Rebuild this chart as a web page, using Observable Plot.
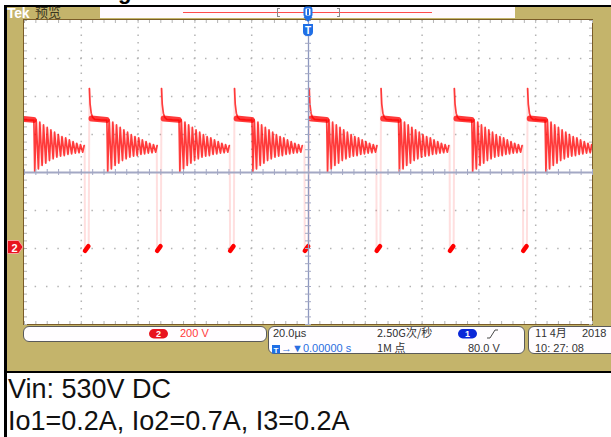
<!DOCTYPE html>
<html><head><meta charset="utf-8">
<script src="https://cdn.jsdelivr.net/npm/d3@7"></script>
<script src="https://cdn.jsdelivr.net/npm/@observablehq/plot@0.6"></script>
<style>
body{margin:0;background:#fff;font-family:"Liberation Sans",Arial,sans-serif;}
#wrap{position:relative;width:611px;height:437px;overflow:hidden;background:#fff;}
.abs{position:absolute;}
.box{position:absolute;box-sizing:border-box;border:1px solid #5a5a5a;border-radius:6px;background:#fffdff;}
.t11{position:absolute;font-size:11px;line-height:11px;color:#333;white-space:nowrap;}
.big{position:absolute;left:8px;font-size:27px;line-height:27px;color:#111;white-space:nowrap;}
</style></head><body>
<div id="wrap">
  <div class="abs" style="left:118px;top:-21px;font:bold 22px 'Liberation Sans',Arial;color:#000;">g</div>
  <!-- black frame + khaki bezel -->
  <div class="abs" style="left:4px;top:5px;width:3px;height:432px;background:#000;"></div>
  <div class="abs" style="left:4px;top:5px;width:607px;height:2px;background:#000;"></div>
  <div class="abs" style="left:7px;top:7px;width:604px;height:364px;background:#c4b46b;"></div>
  <div class="abs" style="left:4px;top:371px;width:607px;height:2px;background:#000;"></div>
  <!-- header -->
  <div class="abs" style="left:7px;top:6px;font:bold 14px/14px 'Liberation Sans',Arial;color:#fff;letter-spacing:-0.3px;">Tek</div>
  <div class="abs" style="left:35px;top:5px;font:13px/14px 'Noto Sans CJK SC';color:#3a3520;">预览</div>
  <div class="abs" style="left:100px;top:7px;width:415px;height:11px;background:#fffafe;"></div>
  <div class="abs" style="left:183px;top:12px;width:249px;height:1px;background:#ff4a4a;"></div>
  <div class="abs" style="left:277px;top:8px;width:3px;height:9px;box-sizing:border-box;border:1px solid #8a8a8a;border-right:none;"></div>
  <div class="abs" style="left:337px;top:8px;width:3px;height:9px;box-sizing:border-box;border:1px solid #8a8a8a;border-left:none;"></div>
  <!-- graticule frame -->
  <div class="abs" style="left:23px;top:19px;width:570px;height:306px;box-sizing:border-box;border:1px solid #7a5c28;background:#fff;"></div>
  <div id="plot" class="abs" style="left:24px;top:20px;width:568px;height:304px;"></div>
  <svg class="abs" style="left:0;top:0" width="611" height="437">
    <polygon points="7.5,240.5 18.5,240.5 23,247 18.5,253.5 7.5,253.5" fill="#e8141e" stroke="#ffb4b4" stroke-width="0.8"/>
    <text x="14.5" y="251.5" fill="#fff" font-size="11" font-weight="bold" text-anchor="middle" font-family="Liberation Sans">2</text>
    <rect x="304.5" y="7.5" width="7" height="9" rx="2" fill="#ffffff" stroke="#1f6fe6" stroke-width="2"/>
    <rect x="307" y="9" width="2" height="6" fill="#1f6fe6"/>
    <polygon points="303.5,17 312.5,17 308,22" fill="#1f6fe6"/>
    <path d="M303,24 h10 v8 q0,4 -5,4 q-5,0 -5,-4 z" fill="#1f6fe6"/>
    <text x="308" y="33.5" fill="#fff" font-size="10" font-weight="bold" text-anchor="middle" font-family="Liberation Sans">T</text>
  </svg>
  <!-- bottom readouts -->
  <div class="box" style="left:23px;top:326px;width:244px;height:16px;"></div>
  <div class="box" style="left:268px;top:326px;width:257px;height:28px;"></div>
  <div class="box" style="left:528px;top:326px;width:95px;height:28px;"></div>
  <svg class="abs" style="left:0;top:0" width="611" height="437">
    <rect x="149" y="329" width="19" height="9.5" rx="4.75" fill="#e8141e"/>
    <text x="158.5" y="337" fill="#fff" font-size="9" font-weight="bold" text-anchor="middle" font-family="Liberation Sans">2</text>
    <rect x="458" y="329" width="19" height="9.5" rx="4.75" fill="#0a28d8"/>
    <text x="467.5" y="337" fill="#fff" font-size="9" font-weight="bold" text-anchor="middle" font-family="Liberation Sans">1</text>
    <path d="M487,338 h3 l5,-8 h3" fill="none" stroke="#333" stroke-width="0.9"/>
    <rect x="272" y="345" width="8" height="8.5" fill="#1f6fe6"/>
    <text x="276" y="352.5" fill="#fff" font-size="8" font-weight="bold" text-anchor="middle" font-family="Liberation Sans">T</text>
  </svg>
  <div class="t11" style="left:180px;top:328px;color:#ff3a3a;">200 V</div>
  <div class="t11" style="left:273px;top:328px;">20.0µs</div>
  <div class="t11" style="left:281px;top:343px;color:#2a6ee0;">→▼0.00000 s</div>
  <div class="t11" style="left:377px;top:327px;font-family:'Noto Sans CJK SC';">2.50G次/秒</div>
  <div class="t11" style="left:377px;top:342px;font-family:'Noto Sans CJK SC';">1M 点</div>
  <div class="t11" style="left:468px;top:343px;">80.0 V</div>
  <div class="t11" style="left:535px;top:327px;font-family:'Noto Sans CJK SC';">11 4月</div>
  <div class="t11" style="left:582px;top:328px;">2018</div>
  <div class="t11" style="left:535px;top:343px;">10: 27: 08</div>
  <div class="big" style="top:376px;">Vin: 530V DC</div>
  <div class="big" style="top:408px;">Io1=0.2A, Io2=0.7A, I3=0.2A</div>
</div>
<script>
// ---- Channel 2 (200 V/div, 20 µs/div) values read from the screen ----
// turn-off instants (µs, relative to trigger)
const spikeTimes = [-103.0, -77.3, -51.9, -26.2, 0.1, 25.4, 51.2, 77.0, 102.7];
// turn-off spike and flat-top (offset µs from turn-off, volts)
const spikeT = [0.15, 0.4, 0.8, 1.3, 2.0, 4.0, 6.3];
const spikeV = [842, 760, 712, 690, 680, 677, 676];
// ringing after demagnetisation
const troughT = [6.6, 7.9, 9.2, 10.5, 11.8, 13.1, 14.4, 15.7, 17.0, 18.3, 19.6, 20.9, 22.2, 23.5];
const troughV = [402, 419, 437, 449, 463, 472, 481, 486, 489, 495, 498, 502, 504, 507];
const peakT = [7.1, 8.4, 9.7, 11.0, 12.3, 13.6, 14.9, 16.2, 17.5, 18.8, 20.1, 21.4, 22.7, 24.0];
const peakV = [677, 665, 651, 638, 625, 612, 600, 589, 583, 572, 563, 554, 547, 542];
// on-time (offset µs before turn-off)
const lowT = [-1.4, -0.2];
const lowV = [-12, 12];
// flat-top band
const flatT = [0.9, 6.2];
const flatV = [684, 677];
// fast edges
const dropT = [-1.52, -1.42];
const dropV = [542, 0];
const riseT = [-0.1, 0.15];
const riseV = [0, 842];

// graticule
const xDivs = [-100, -80, -60, -40, -20, 0, 20, 40, 60, 80, 100];
const yDivs = [-400, -200, 0, 200, 400, 600, 800, 1000, 1200];
const xCenter = 0, yCenter = 400;

const main = [], flat = [], low = [], edges = [], ringBand = [];
spikeTimes.forEach((s, c) => {
  spikeT.forEach((d, i) => main.push({t: s + d, v: spikeV[i], c}));
  troughT.forEach((d, i) => {
    main.push({t: s + d, v: troughV[i], c});
    main.push({t: s + peakT[i], v: peakV[i], c});
    ringBand.push({t: s + d, lo: troughV[i], hi: peakV[i], c});
  });
  flatT.forEach((d, i) => flat.push({t: s + d, v: flatV[i], c}));
  lowT.forEach((d, i) => low.push({t: s + d, v: lowV[i], c}));
  dropT.forEach((d, i) => edges.push({t: s + d, v: dropV[i], c: "d" + c}));
  riseT.forEach((d, i) => edges.push({t: s + d, v: riseV[i], c: "r" + c}));
});

const minorX = d3.range(-100, 100.001, 4);
const minorY = d3.range(-400, 1200.001, 40);
const px = 200 / 568, py = 1600 / 304; // data units per pixel
const grey = "#b4b4b4", cross = "#a3a8c4";

const chart = Plot.plot({
  width: 568, height: 304, margin: 0,
  x: {domain: [-100, 100], axis: null},
  y: {domain: [-400, 1200], axis: null},
  style: {background: "transparent", overflow: "visible"},
  marks: [
    Plot.ruleX(xDivs.filter(d => d !== xCenter && Math.abs(d) !== 100), {stroke: grey, strokeWidth: 1.5, strokeDasharray: "1.5 6.1", strokeDashoffset: 0.75}),
    Plot.ruleY(yDivs.filter(d => d !== yCenter && d !== -400 && d !== 1200), {stroke: grey, strokeWidth: 1.5, strokeDasharray: "1.5 9.86", strokeDashoffset: 0.75}),
    Plot.ruleX(minorX, {y1: 1200, y2: 1200 - 3 * py, stroke: grey}),
    Plot.ruleX(minorX, {y1: -400, y2: -400 + 3 * py, stroke: grey}),
    Plot.ruleY(minorY, {x1: -100, x2: -100 + 3 * px, stroke: grey}),
    Plot.ruleY(minorY, {x1: 100, x2: 100 - 3 * px, stroke: grey}),
    Plot.areaY(ringBand, {x: "t", y1: "lo", y2: "hi", z: "c", fill: "#ff5a5a", fillOpacity: 0.14, curve: "linear", clip: true}),
    Plot.line(edges, {x: "t", y: "v", z: "c", stroke: "#ff6060", strokeOpacity: 0.2, strokeWidth: 2, clip: true}),
    Plot.line(flat, {x: "t", y: "v", z: "c", stroke: "#ff0a0a", strokeOpacity: 0.8, strokeWidth: 6, clip: true}),
    Plot.line(main, {x: "t", y: "v", z: "c", stroke: "#ff0000", strokeOpacity: 0.75, strokeWidth: 1.7, clip: true}),
    Plot.line(low, {x: "t", y: "v", z: "c", stroke: "#ff0000", strokeWidth: 4.5, clip: true}),
    Plot.ruleX([xCenter], {stroke: "#8d98bf", strokeWidth: 1.3}),
    Plot.ruleY([yCenter], {stroke: cross, strokeWidth: 2}),
    Plot.ruleX(minorX, {y1: yCenter - 3 * py, y2: yCenter + 3 * py, stroke: cross}),
    Plot.ruleY(minorY, {x1: xCenter - 3 * px, x2: xCenter + 3 * px, stroke: cross})
  ]
});
document.getElementById("plot").appendChild(chart);
</script>
</body></html>
